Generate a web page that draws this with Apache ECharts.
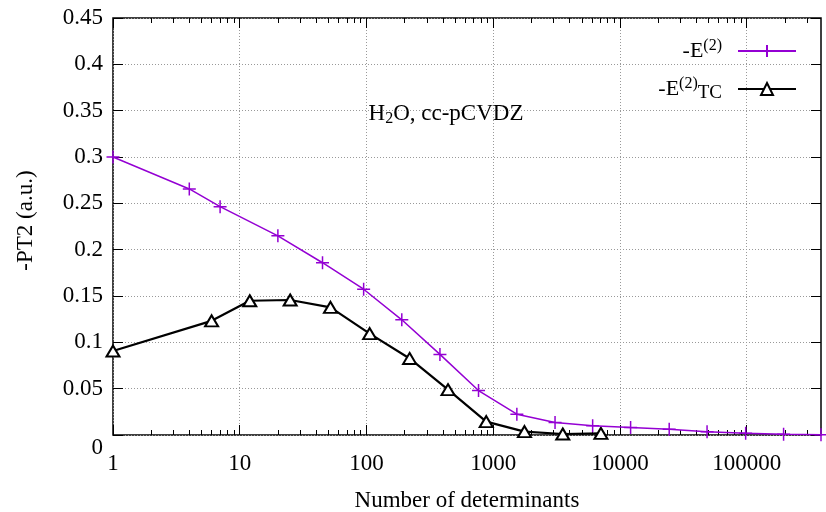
<!DOCTYPE html>
<html>
<head>
<meta charset="utf-8">
<script src="https://cdn.jsdelivr.net/npm/echarts@6/dist/echarts.min.js"></script>
<style>
html,body{margin:0;padding:0;background:#fff;}
#chart{width:826px;height:512px;}
</style>
</head>
<body>
<div id="chart"></div>
<script>
// ---- data ----
const e2X = [1, 4, 7, 20, 45, 95, 190, 380, 766, 1537, 3076, 6092, 12140, 24480, 48700, 98200, 195600, 386000];
const e2Y = [0.300, 0.2655, 0.2464, 0.2149, 0.1859, 0.1573, 0.1243, 0.087, 0.048, 0.0225, 0.0134, 0.0101, 0.0080, 0.0062, 0.0036, 0.0018, 0.0008, 0.0002];
const tcX = [1, 6, 12, 25, 52, 106, 219, 440, 881, 1765, 3540, 7080];
const tcY = [0.0906, 0.1232, 0.1449, 0.1457, 0.1377, 0.1094, 0.0826, 0.0489, 0.0145, 0.0036, 0.0011, 0.0018];
const xMajorTicks = [1, 10, 100, 1000, 10000, 100000];
const xMinorTicks = [];
for (const d of [1, 10, 100, 1000, 10000, 100000]) {
  for (let k = 2; k <= 9; k++) { if (d * k <= 386000) xMinorTicks.push(d * k); }
}
const seriesNames = ['-E(2)', '-E(2)TC'];
const xName = 'Number of determinants';
const yName = '-PT2 (a.u.)';

const FONT = 'Liberation Serif';
const FS = 23;
const chart = echarts.init(document.getElementById('chart'));

const xMin = 1, xMax = e2X[e2X.length - 1];
function xAx(pos, ticks, len, withLabels) {
  return {
    type: 'log', logBase: 10, min: xMin, max: xMax, position: pos,
    gridIndex: 0,
    axisLine: {show: false},
    axisTick: {show: true, inside: true, length: len, customValues: ticks, lineStyle: {color: '#000', width: 1}},
    axisLabel: withLabels ? {show: true, customValues: ticks, margin: 17, color: '#000', fontFamily: FONT, fontSize: FS,
      formatter: function (v) { return String(Math.round(v)); }} : {show: false},
    splitLine: withLabels ? {show: true, lineStyle: {color: '#999', type: [1, 2], width: 1}} : {show: false},
    minorTick: {show: false},
    name: withLabels ? xName : '',
    nameLocation: 'middle', nameGap: 54,
    nameTextStyle: {color: '#000', fontFamily: FONT, fontSize: FS}
  };
}
const plus = 'path://M0,5L10,5M5,0L5,10';

const option = {
  animation: false,
  backgroundColor: '#fff',
  grid: {left: 113, right: 5, top: 18, bottom: 77, outerBoundsMode: 'none', containLabel: false,
    show: true, borderColor: '#000', borderWidth: 1.5, backgroundColor: 'transparent'},
  title: {
    text: '{a|H}{b|2}{a|O, cc-pCVDZ}',
    left: 441, top: 96, textAlign: 'center',
    textStyle: {
      fontWeight: 'normal',
      rich: {
        a: {fontFamily: FONT, fontSize: 23, color: '#000', fontWeight: 'normal'},
        b: {fontFamily: FONT, fontSize: 16, color: '#000', fontWeight: 'normal', padding: [10, 0, 0, 0]}
      }
    }
  },
  legend: {
    orient: 'vertical', right: 29, top: 38, align: 'right', padding: 0,
    itemWidth: 58, itemHeight: 15, itemGap: 14,
    data: seriesNames,
    formatter: function (n) {
      return n === seriesNames[0] ? '{n|-E}{s|(2)}' : '{n|-E}{s2|(2)}{t|TC}';
    },
    textStyle: {
      rich: {
        n: {fontFamily: FONT, fontSize: 22, color: '#000'},
        s: {fontFamily: FONT, fontSize: 16, color: '#000', padding: [0, 11, 10, 0]},
        s2: {fontFamily: FONT, fontSize: 16, color: '#000', padding: [0, 0, 10, 0]},
        t: {fontFamily: FONT, fontSize: 19, color: '#000', padding: [9, 11, 0, 0]}
      }
    }
  },
  xAxis: [
    xAx('bottom', xMajorTicks, 10, true),
    xAx('bottom', xMinorTicks, 5, false),
    xAx('top', xMajorTicks, 10, false),
    xAx('top', xMinorTicks, 5, false)
  ],
  yAxis: [
    {
      type: 'value', min: 0, max: 0.45, interval: 0.05, position: 'left',
      axisLine: {show: false},
      axisTick: {show: true, inside: true, length: 10, lineStyle: {color: '#000'}},
      axisLabel: {
        color: '#000', fontFamily: FONT, fontSize: FS, margin: 10,
        formatter: function (v) { return v === 0 ? '{z|0}' : String(+v.toFixed(2)); },
        rich: {z: {fontFamily: FONT, fontSize: FS, color: '#000', padding: [26, 0, 0, 0]}}
      },
      splitLine: {show: true, lineStyle: {color: '#999', type: [1, 2], width: 1}},
      name: yName, nameLocation: 'middle', nameGap: 76, nameRotate: 90,
      nameTextStyle: {color: '#000', fontFamily: FONT, fontSize: FS, padding: [0, 0, 0, 12]}
    },
    {
      type: 'value', min: 0, max: 0.45, interval: 0.05, position: 'right',
      axisLine: {show: false},
      axisTick: {show: true, inside: true, length: 10, lineStyle: {color: '#000'}},
      axisLabel: {show: false},
      splitLine: {show: false}
    }
  ],
  series: [
    {
      name: seriesNames[0], type: 'line', xAxisIndex: 0, yAxisIndex: 0,
      data: e2X.map((x, i) => [x, e2Y[i]]),
      symbol: plus, symbolSize: 13,
      lineStyle: {color: '#9400D3', width: 1.5},
      itemStyle: {color: '#9400D3', borderColor: '#9400D3', borderWidth: 1.5},
      z: 3
    },
    {
      name: seriesNames[1], type: 'line', xAxisIndex: 0, yAxisIndex: 0,
      data: tcX.map((x, i) => [x, tcY[i]]),
      symbol: 'triangle', symbolSize: [13, 11],
      lineStyle: {color: '#000', width: 2.2},
      itemStyle: {color: '#fff', borderColor: '#000', borderWidth: 2},
      z: 2
    }
  ]
};
chart.setOption(option);
</script>
</body>
</html>
